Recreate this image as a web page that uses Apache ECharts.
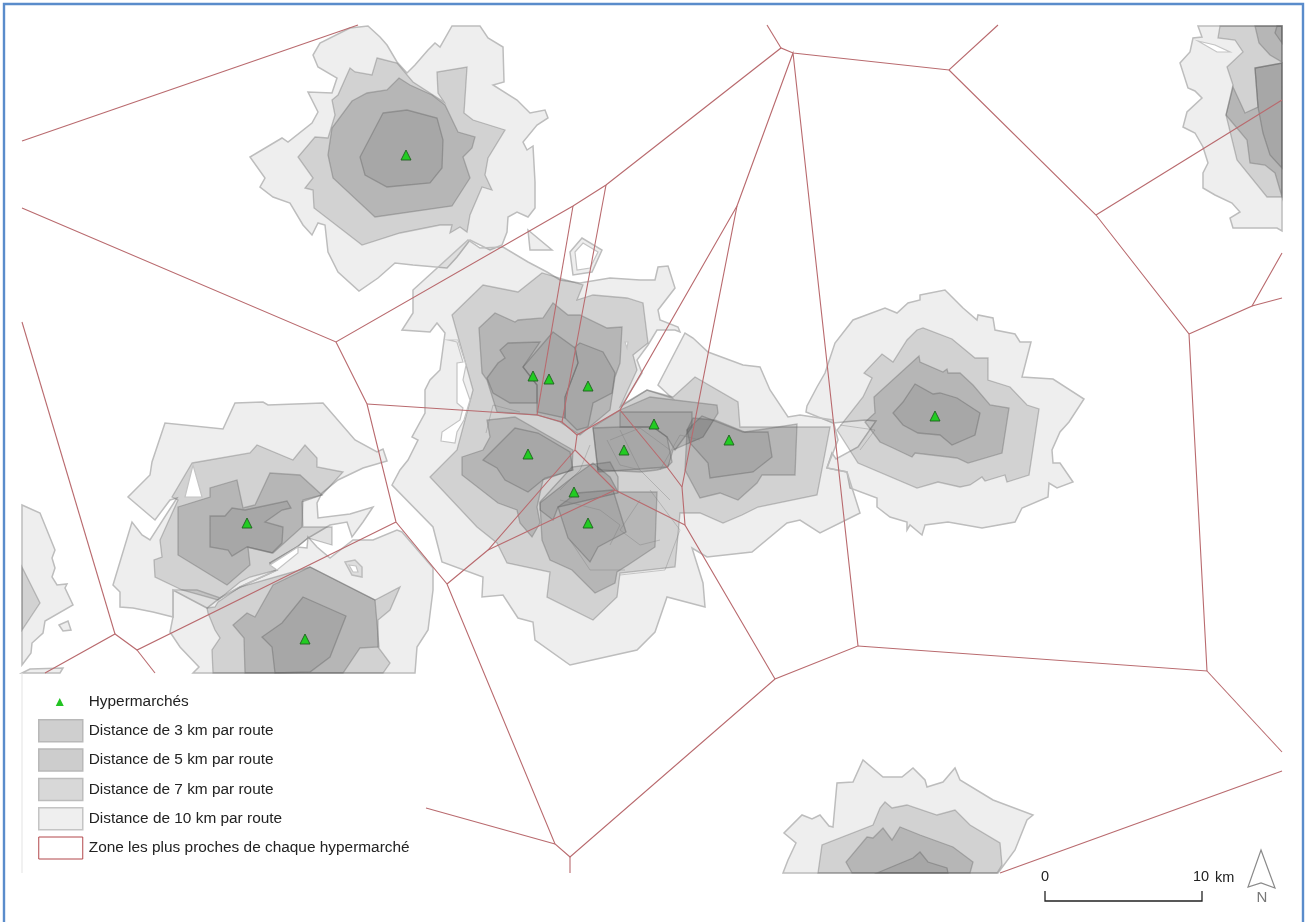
<!DOCTYPE html>
<html><head><meta charset="utf-8">
<style>html,body{margin:0;padding:0;background:#fff}#c{width:1306px;height:922px}</style>
<script src="https://cdn.jsdelivr.net/npm/echarts@6/dist/echarts.min.js"></script>
</head><body><div id="c"></div>
<script>
const legendNames = ['Hypermarchés','Distance de 3 km par route','Distance de 5 km par route','Distance de 7 km par route','Distance de 10 km par route','Zone les plus proches de chaque hypermarché'];
const stores = [[406,155],[533,376],[549,379],[588,386],[654,424],[624,450],[528,454],[574,492],[588,523],[729,440],[935,416],[247,523],[305,639]];
const dist10 = [
 [[368,26],[380,37],[387,45],[397,62],[407,73],[415,65],[428,50],[435,43],[440,47],[452,26],[480,26],[488,38],[503,47],[504,82],[493,85],[517,100],[530,113],[545,110],[548,118],[537,125],[523,142],[527,150],[533,146],[535,182],[535,208],[528,217],[517,212],[508,217],[507,232],[502,245],[490,250],[470,240],[457,257],[447,268],[413,265],[395,263],[378,278],[359,291],[338,272],[328,252],[325,225],[318,223],[312,235],[303,225],[290,203],[273,197],[260,187],[265,178],[250,157],[282,138],[288,142],[312,123],[318,112],[308,92],[332,93],[337,78],[318,67],[313,55],[320,43],[350,28]],
 [[920,295],[945,290],[963,308],[977,320],[978,315],[993,318],[995,330],[1015,334],[1020,342],[1031,342],[1022,377],[1053,379],[1084,399],[1069,422],[1060,432],[1052,450],[1053,463],[1060,463],[1073,482],[1057,488],[1049,483],[1048,497],[1022,508],[1015,522],[982,528],[948,522],[925,525],[922,535],[910,525],[907,530],[907,522],[890,517],[877,507],[877,498],[850,488],[847,472],[827,468],[832,453],[836,459],[858,447],[876,421],[865,420],[833,423],[806,412],[807,406],[817,387],[825,373],[835,343],[853,320],[885,308],[897,313],[908,303],[920,300]],
 [[235,403],[263,402],[268,405],[323,403],[355,440],[377,452],[383,449],[387,461],[363,468],[338,480],[322,493],[317,503],[318,518],[350,514],[373,507],[363,522],[352,537],[347,522],[330,525],[308,538],[297,547],[270,563],[277,570],[240,587],[220,598],[207,608],[173,590],[173,617],[153,612],[133,608],[120,607],[120,592],[113,585],[132,522],[142,535],[150,540],[177,498],[170,500],[155,520],[128,497],[150,475],[152,462],[165,423],[223,429]],
 [[173,590],[197,590],[220,598],[240,587],[277,570],[270,564],[297,547],[307,548],[308,537],[317,547],[330,558],[353,540],[373,540],[397,530],[402,532],[433,568],[433,590],[428,630],[417,647],[415,673],[193,673],[199,667],[180,647],[170,632],[173,617]],
 [[345,562],[355,560],[362,567],[362,577],[352,575]],
 [[22,505],[40,513],[55,550],[52,558],[55,568],[52,577],[57,585],[67,584],[65,588],[73,605],[45,621],[43,633],[32,643],[31,653],[22,665]],
 [[59,625],[68,621],[71,630],[63,631]],
 [[22,673],[30,669],[63,668],[60,673]],
 [[1198,26],[1202,37],[1193,38],[1190,52],[1180,63],[1188,88],[1195,91],[1202,98],[1187,112],[1183,127],[1195,133],[1203,147],[1208,163],[1203,173],[1203,188],[1215,195],[1232,203],[1240,212],[1230,218],[1233,228],[1277,228],[1282,231],[1282,26]],
 [[783,873],[788,860],[796,843],[784,833],[802,815],[812,819],[820,815],[829,826],[833,827],[837,783],[853,782],[863,760],[883,777],[902,777],[913,768],[925,780],[927,787],[943,782],[955,768],[960,780],[993,800],[1033,815],[1027,820],[1015,850],[998,873]],
 [[413,290],[468,240],[480,248],[503,247],[528,262],[547,272],[560,280],[580,283],[610,278],[640,280],[655,280],[658,267],[668,266],[675,288],[658,310],[660,320],[678,327],[680,332],[675,330],[657,330],[648,345],[637,360],[642,373],[622,405],[647,390],[672,398],[658,385],[685,333],[693,338],[708,352],[743,365],[760,367],[770,390],[788,417],[800,415],[833,420],[838,440],[827,468],[847,472],[860,513],[820,533],[800,520],[787,523],[752,552],[707,557],[692,548],[703,583],[705,607],[667,597],[655,632],[637,650],[570,665],[535,640],[533,622],[518,618],[503,595],[482,597],[483,577],[442,562],[433,527],[392,485],[400,470],[408,460],[418,440],[412,437],[425,413],[425,390],[430,380],[440,370],[445,333],[437,323],[430,332],[402,330],[413,313]],
 [[570,252],[582,238],[602,250],[592,272],[573,275]],
 [[528,230],[552,250],[530,250]]
];
const dist7 = [
 [[377,58],[397,63],[413,82],[444,102],[438,93],[437,72],[467,67],[464,113],[473,120],[505,130],[488,158],[485,175],[492,190],[482,187],[470,215],[467,232],[460,227],[450,233],[452,225],[440,225],[400,233],[362,245],[314,208],[313,190],[305,188],[313,178],[298,157],[315,137],[328,138],[335,115],[332,100],[338,95],[350,68],[355,72],[372,75]],
 [[917,330],[923,328],[952,339],[975,358],[988,358],[988,380],[1010,387],[1027,405],[1039,409],[1029,475],[1007,482],[1005,475],[985,481],[982,477],[970,485],[960,487],[938,482],[917,488],[858,463],[837,430],[863,397],[872,378],[864,373],[882,354],[893,362],[907,340]],
 [[192,463],[250,453],[257,445],[293,460],[305,445],[317,458],[317,467],[343,472],[322,495],[302,502],[303,527],[332,527],[332,545],[308,538],[297,547],[270,563],[277,570],[250,577],[240,582],[218,600],[182,590],[155,577],[154,560],[162,557],[160,540],[178,500],[172,497]],
 [[207,608],[215,607],[218,602],[240,587],[310,567],[375,600],[400,587],[390,610],[378,620],[378,647],[390,663],[383,673],[213,673],[212,650],[220,638],[215,630],[208,613]],
 [[22,567],[40,603],[22,630]],
 [[1220,26],[1218,38],[1235,40],[1243,52],[1227,67],[1233,85],[1226,115],[1237,160],[1267,197],[1282,197],[1282,26]],
 [[818,873],[822,845],[873,825],[880,808],[885,802],[892,808],[907,805],[937,815],[955,810],[970,825],[1000,843],[1002,865],[997,873]],
 [[452,315],[483,285],[518,292],[542,273],[583,285],[577,300],[593,295],[627,298],[643,303],[648,343],[633,355],[637,370],[620,407],[647,390],[673,397],[695,377],[738,402],[740,427],[797,427],[830,427],[817,495],[758,507],[742,515],[723,523],[700,513],[680,513],[675,567],[620,573],[617,597],[593,620],[547,597],[550,572],[507,563],[497,543],[477,527],[430,477],[457,450],[473,390]]
];
const dist5 = [
 [[399,78],[410,85],[432,95],[445,105],[458,132],[475,137],[472,148],[463,157],[470,178],[452,206],[375,217],[333,178],[328,155],[332,128],[352,101],[367,93],[387,90]],
 [[919,356],[920,362],[943,372],[947,369],[948,373],[960,373],[973,385],[990,405],[1009,408],[1002,453],[968,463],[957,458],[915,453],[912,457],[893,448],[880,442],[865,422],[875,413],[874,397]],
 [[178,507],[210,497],[210,488],[237,480],[243,508],[255,505],[270,473],[300,475],[322,495],[303,500],[302,527],[273,553],[248,547],[250,565],[227,585],[178,555]],
 [[310,567],[375,600],[379,647],[360,648],[343,673],[245,673],[244,638],[233,625],[247,613],[255,617],[273,585]],
 [[1255,26],[1259,43],[1270,55],[1282,62],[1282,26]],
 [[1233,87],[1245,113],[1258,107],[1255,68],[1282,63],[1282,197],[1275,173],[1265,165],[1250,163],[1247,140],[1226,115]],
 [[852,873],[846,862],[867,837],[873,838],[883,828],[892,840],[900,827],[920,835],[953,847],[973,862],[970,873]],
 [[479,328],[495,313],[515,322],[518,320],[543,318],[553,303],[568,315],[580,315],[607,328],[622,327],[620,363],[615,377],[610,410],[580,435],[560,422],[537,415],[497,412],[487,380],[482,373]],
 [[462,457],[483,450],[490,437],[487,420],[515,417],[573,450],[572,470],[543,480],[537,507],[540,523],[532,537],[520,523],[517,510],[498,503],[462,475]],
 [[593,427],[620,410],[650,397],[717,405],[718,413],[703,437],[673,450],[668,467],[657,470],[640,472],[598,470]],
 [[687,430],[693,418],[715,420],[745,432],[797,424],[795,475],[762,475],[757,483],[738,500],[720,493],[700,498],[685,470]],
 [[540,503],[573,477],[593,463],[610,477],[618,492],[657,492],[655,547],[628,565],[617,572],[615,583],[595,593],[572,570],[550,560],[542,540]]
];
const dist3 = [
 [[383,113],[407,110],[437,118],[443,140],[442,168],[430,183],[387,187],[365,175],[360,157]],
 [[915,384],[933,394],[940,393],[957,398],[980,413],[975,435],[952,445],[940,435],[918,433],[903,425],[893,413],[903,402]],
 [[210,516],[225,516],[232,508],[245,510],[287,501],[291,508],[282,510],[265,522],[283,527],[282,543],[272,553],[247,547],[232,556],[228,550],[210,547]],
 [[303,597],[346,616],[330,657],[310,672],[275,673],[272,647],[262,637],[282,623]],
 [[1277,26],[1275,33],[1282,43],[1282,26]],
 [[1255,68],[1282,63],[1282,168],[1270,155],[1263,133],[1258,107]],
 [[877,873],[913,858],[920,852],[928,862],[947,868],[948,873]],
 [[487,378],[498,363],[505,358],[500,350],[508,343],[540,342],[523,367],[537,385],[537,403],[510,403],[493,393]],
 [[553,332],[575,348],[578,363],[565,397],[565,418],[537,412],[537,385],[523,367]],
 [[580,343],[603,352],[615,373],[612,393],[593,403],[588,427],[577,430],[565,418],[565,397],[578,363],[575,347]],
 [[483,460],[515,428],[538,433],[570,452],[573,470],[545,478],[528,492],[505,480],[497,468]],
 [[620,412],[650,412],[692,412],[692,427],[675,450],[667,437],[653,427],[620,427]],
 [[593,428],[620,427],[653,427],[667,437],[672,462],[667,467],[598,472]],
 [[687,430],[702,416],[743,432],[768,432],[772,457],[753,472],[710,478],[708,463],[690,443]],
 [[540,502],[572,467],[610,462],[618,477],[618,493],[558,507],[553,520],[540,510]],
 [[558,507],[577,493],[613,490],[626,532],[598,547],[590,562],[568,538]]
];
const holes = [
 [[1198,41],[1215,45],[1230,52],[1217,52]],
 [[185,497],[202,497],[193,465]],
 [[349,565],[356,566],[358,572],[353,572]],
 [[270,565],[298,547],[298,553],[277,570]],
 [[448,340],[457,342],[463,362],[457,363],[457,403],[463,408],[460,420],[442,432],[441,441],[455,443],[457,432],[464,420],[470,400],[463,380],[466,365],[458,340]],
 [[575,252],[583,243],[598,252],[590,268],[577,270]],
 [[625,342],[628,342],[627,348]]
];
const innerLines = [
 [[607,440],[620,465],[640,470]],[[560,500],[600,510],[620,525],[610,545]],[[590,445],[580,470],[560,490]],
 [[486,433],[493,405],[520,412]],[[640,500],[620,530],[640,545],[660,540]],[[620,575],[665,570],[680,530],[650,490]],
 [[570,540],[590,570],[625,570]],[[660,470],[680,435],[700,440]],[[860,450],[875,430],[840,425]],
 [[610,440],[640,428],[670,450]],[[670,500],[640,470],[620,430]]
];
const zoneLines = [
 [[22,141],[358,25]],
 [[22,208],[336,342],[573,206],[606,185],[781,48],[793,53],[949,70],[998,25]],
 [[767,25],[781,48]],
 [[336,342],[367,404],[396,522],[447,584],[555,844],[570,857],[775,679],[858,646],[793,53],[737,206],[682,487],[685,525],[775,679]],
 [[737,206],[620,410],[577,435],[562,422],[537,415],[367,404]],
 [[573,206],[537,415]],[[606,185],[562,422]],
 [[577,435],[575,450],[615,490],[685,525]],
 [[620,410],[667,467],[682,487]],
 [[575,450],[488,550],[447,584]],
 [[488,550],[615,490]],
 [[858,646],[1207,671],[1189,334],[1096,215],[949,70]],
 [[1096,215],[1282,100]],
 [[1189,334],[1252,306],[1282,253]],[[1252,306],[1282,298]],
 [[1207,671],[1282,752]],
 [[1000,873],[1282,771]],
 [[426,808],[555,844]],[[570,857],[570,873]],
 [[396,522],[137,650],[115,634],[45,673]],
 [[115,634],[22,322]],[[137,650],[155,673]]
];
const scaleBar = [[1045,891],[1045,901],[1202,901],[1202,891]];
const scaleLabels = [['0',1045,877,'center'],['10',1201,877,'center'],['km',1215,878,'left']];
const northArrow = [[1261,850],[1275,888],[1261,883],[1248,887]];
const northLabel = ['N',1262,898];
const mapEdge = [[22,673],[22,873]];
const frame = [[4,922],[4,4],[1303,4],[1303,922]];

function pts(api,p){return p.map(q=>api.coord(q));}
function polys(name,list,fill,stroke,lw,z){
  return {type:'custom',name,coordinateSystem:'cartesian2d',clip:false,z,silent:true,
    itemStyle:{color:fill,borderColor:stroke},
    data:list.map((p,i)=>[p[0][0],p[0][1],i]),
    renderItem:(params,api)=>({type:'polygon',shape:{points:pts(api,list[params.dataIndex])},style:{fill,stroke,lineWidth:lw}})};
}
function lines(name,list,color,lw,z){
  return {type:'custom',name,coordinateSystem:'cartesian2d',clip:false,z,silent:true,
    itemStyle:{color},
    data:list.map((p,i)=>[p[0][0],p[0][1],i]),
    renderItem:(params,api)=>({type:'polyline',shape:{points:pts(api,list[params.dataIndex])},style:{fill:'none',stroke:color,lineWidth:lw}})};
}
const font='"Liberation Sans",Arial,sans-serif';
const option={
  animation:false,backgroundColor:'#fff',
  grid:{left:0,right:0,top:0,bottom:0},
  xAxis:{type:'value',min:0,max:1306,show:false},
  yAxis:{type:'value',min:0,max:922,inverse:true,show:false},
  legend:{orient:'vertical',left:38,top:691,padding:0,itemWidth:44,itemHeight:22,itemGap:5.9,selectedMode:false,
    textStyle:{fontFamily:font,fontSize:15.4,color:'#222',padding:[0,0,0,1]},
    data:[
     {name:legendNames[0],icon:'path://M0 0L0 0M44 22L44 22M17 15L21 7L25 15Z',itemStyle:{color:'#22c322',borderWidth:0}},
     {name:legendNames[1],icon:'rect',itemStyle:{color:'#cfcfcf',borderColor:'#b8b8b8',borderWidth:1.5}},
     {name:legendNames[2],icon:'rect',itemStyle:{color:'#cdcdcd',borderColor:'#b8b8b8',borderWidth:1.5}},
     {name:legendNames[3],icon:'rect',itemStyle:{color:'#d8d8d8',borderColor:'#bcbcbc',borderWidth:1.5}},
     {name:legendNames[4],icon:'rect',itemStyle:{color:'#efefef',borderColor:'#c4c4c4',borderWidth:1.5}},
     {name:legendNames[5],icon:'rect',itemStyle:{color:'#ffffff',borderColor:'#b2474b',borderWidth:1}}
    ]},
  series:[
    polys(legendNames[4],dist10,'rgba(0,0,0,0.066)','#bdbdbd',1.5,1),
    polys(legendNames[3],dist7,'rgba(0,0,0,0.118)','rgba(120,120,120,0.42)',1.3,2),
    polys('Enclaves',holes,'#ffffff','#c4c4c4',1.2,3),
    polys(legendNames[2],dist5,'rgba(0,0,0,0.13)','rgba(110,110,110,0.42)',1.3,4),
    polys(legendNames[1],dist3,'rgba(0,0,0,0.077)','rgba(100,100,100,0.42)',1.3,5),
    lines('Limites',innerLines,'rgba(120,120,120,0.35)',1,6),
    lines(legendNames[5],zoneLines,'#b96a6e',1.1,7),
    {type:'scatter',name:legendNames[0],data:stores,symbol:'triangle',symbolSize:10,z:8,silent:true,
     itemStyle:{color:'#22cc22',borderColor:'#1f5f1f',borderWidth:0.9,opacity:1}},
    lines('Echelle',[scaleBar],'#222',1.3,9),
    lines('Bord',[mapEdge],'#e3e3e3',1,9),
    lines('Cadre',[frame],'#5a8ccb',2.4,10),
    polys('Nord',[northArrow],'#ffffff','#8a8a8a',1.2,9),
    {type:'custom',name:'Textes',coordinateSystem:'cartesian2d',clip:false,z:9,silent:true,
     data:scaleLabels.map(l=>[l[1],l[2]]),
     renderItem:(params,api)=>{const l=scaleLabels[params.dataIndex],c=api.coord([l[1],l[2]]);
       return {type:'text',style:{text:l[0],x:c[0],y:c[1],align:l[3],verticalAlign:'middle',fontFamily:font,fontSize:14.5,fill:'#222'}};}},
    {type:'custom',name:'TexteNord',coordinateSystem:'cartesian2d',clip:false,z:9,silent:true,
     data:[[northLabel[1],northLabel[2]]],
     renderItem:(params,api)=>{const c=api.coord([northLabel[1],northLabel[2]]);
       return {type:'text',style:{text:northLabel[0],x:c[0],y:c[1],align:'center',verticalAlign:'middle',fontFamily:font,fontSize:15,fill:'#777'}};}}
  ]
};
echarts.init(document.getElementById('c')).setOption(option);
</script></body></html>
